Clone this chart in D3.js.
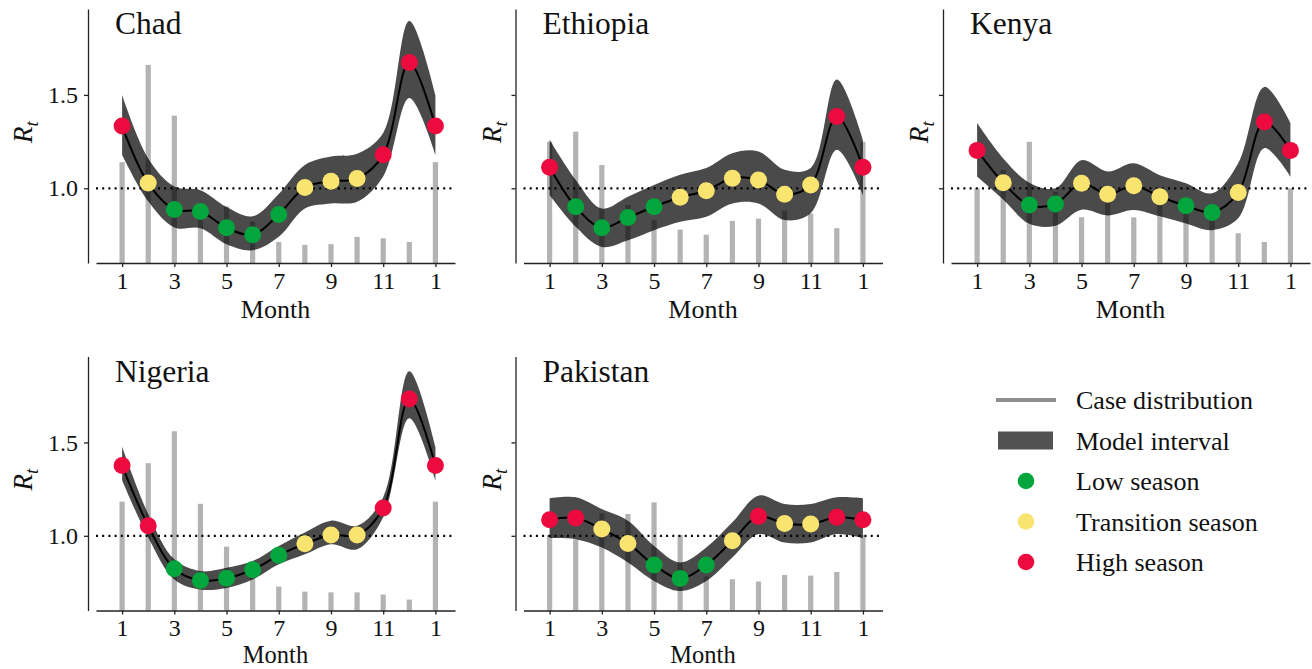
<!DOCTYPE html>
<html>
<head>
<meta charset="utf-8">
<script src="https://cdn.jsdelivr.net/npm/d3@7"></script>
<style>
  body { margin: 0; background: #ffffff; }
  svg { display: block; font-family: "Liberation Serif", "Times New Roman", serif; }
</style>
</head>
<body>
<svg id="chart" width="1312" height="669"></svg>
<script>
// Months 1..12, plus month 13 which repeats January to close the yearly cycle
const tickMonths = [1, 3, 5, 7, 9, 11, 13];
const tickLabels = ["1", "3", "5", "7", "9", "11", "1"];
const rTicks = [1.0, 1.5];
const countries = ["Chad", "Ethiopia", "Kenya", "Nigeria", "Pakistan"];

// Season of each month: L = low, T = transition, H = high
const chadSeason     = ["H","T","L","L","L","L","L","T","T","T","H","H"];
const ethiopiaSeason = ["H","L","L","L","L","T","T","T","T","T","T","H"];
const kenyaSeason    = ["H","T","L","L","T","T","T","T","L","L","T","H"];
const nigeriaSeason  = ["H","H","L","L","L","L","L","T","T","T","H","H"];
const pakistanSeason = ["H","H","T","T","L","L","L","T","H","T","T","H"];

// Monthly reproduction number R_t (model mean)
const chadRt     = [1.333, 1.028, 0.887, 0.876, 0.789, 0.751, 0.860, 1.004, 1.038, 1.052, 1.179, 1.674];
const ethiopiaRt = [1.113, 0.901, 0.789, 0.844, 0.901, 0.952, 0.987, 1.054, 1.045, 0.968, 1.018, 1.385];
const kenyaRt    = [1.203, 1.030, 0.910, 0.916, 1.027, 0.968, 1.014, 0.955, 0.907, 0.871, 0.977, 1.355];
const nigeriaRt  = [1.376, 1.054, 0.824, 0.761, 0.773, 0.818, 0.896, 0.957, 1.004, 1.004, 1.149, 1.732];
const pakistanRt = [1.086, 1.095, 1.036, 0.959, 0.844, 0.772, 0.844, 0.973, 1.104, 1.066, 1.063, 1.099];

// Model interval, lower and upper bounds
const chadLower     = [1.180, 0.930, 0.790, 0.786, 0.700, 0.668, 0.740, 0.892, 0.919, 0.928, 1.063, 1.484];
const chadUpper     = [1.500, 1.160, 1.010, 0.990, 0.900, 0.850, 0.970, 1.125, 1.170, 1.185, 1.296, 1.896];
const ethiopiaLower = [0.964, 0.794, 0.686, 0.722, 0.776, 0.821, 0.848, 0.919, 0.919, 0.830, 0.866, 1.206];
const ethiopiaUpper = [1.260, 1.045, 0.892, 0.955, 1.018, 1.072, 1.108, 1.188, 1.197, 1.099, 1.108, 1.582];
const kenyaLower    = [1.063, 0.940, 0.810, 0.800, 0.885, 0.855, 0.884, 0.850, 0.812, 0.776, 0.839, 1.215];
const kenyaUpper    = [1.349, 1.160, 1.030, 1.000, 1.150, 1.090, 1.134, 1.070, 1.027, 0.973, 1.134, 1.543];
const nigeriaLower  = [1.297, 0.991, 0.766, 0.712, 0.721, 0.766, 0.847, 0.901, 0.955, 0.928, 1.099, 1.629];
const nigeriaUpper  = [1.477, 1.117, 0.874, 0.811, 0.829, 0.865, 0.946, 1.018, 1.081, 1.054, 1.207, 1.881];
const pakistanLower = [0.987, 0.982, 0.937, 0.857, 0.758, 0.704, 0.758, 0.884, 1.009, 0.964, 0.964, 1.009];
const pakistanUpper = [1.201, 1.206, 1.143, 1.081, 0.946, 0.857, 0.937, 1.072, 1.215, 1.170, 1.170, 1.206];

// Share of annual cases in each month (%)
const chadCases     = [13.9, 27.3, 20.3, 6.4, 7.8, 5.7, 2.9, 2.5, 2.6, 3.6, 3.4, 2.9];
const ethiopiaCases = [16.7, 18.1, 13.5, 8.0, 5.9, 4.6, 3.9, 5.8, 6.1, 7.2, 6.8, 4.8];
const kenyaCases    = [10.3, 12.8, 16.7, 9.8, 6.3, 8.6, 6.3, 8.0, 6.9, 6.4, 4.1, 2.9];
const nigeriaCases  = [15.0, 20.3, 24.7, 14.7, 8.8, 5.2, 3.3, 2.6, 2.5, 2.5, 2.2, 1.5];
const pakistanCases = [10.4, 9.8, 13.4, 13.3, 14.9, 10.4, 4.7, 4.3, 4.0, 4.9, 4.8, 5.3];

const seasonColor = { L: "#03a63c", T: "#fae470", H: "#ec0a3f" };

const panels = [
  { name: countries[0], rt: chadRt,     lo: chadLower,     hi: chadUpper,     cases: chadCases,     season: chadSeason },
  { name: countries[1], rt: ethiopiaRt, lo: ethiopiaLower, hi: ethiopiaUpper, cases: ethiopiaCases, season: ethiopiaSeason },
  { name: countries[2], rt: kenyaRt,    lo: kenyaLower,    hi: kenyaUpper,    cases: kenyaCases,    season: kenyaSeason },
  { name: countries[3], rt: nigeriaRt,  lo: nigeriaLower,  hi: nigeriaUpper,  cases: nigeriaCases,  season: nigeriaSeason },
  { name: countries[4], rt: pakistanRt, lo: pakistanLower, hi: pakistanUpper, cases: pakistanCases, season: pakistanSeason }
];

// Close the cycle: month 13 takes January's value
const wrap = arr => arr.concat([arr[0]]);

const svg = d3.select("#chart");
const W = 367, H = 254;
const colX = [88, 515.5, 943];
const rowY = [9, 356.5];

const x = d3.scaleLinear().domain([0, 13.75]).range([8, W]);
const y = d3.scaleLinear().domain([0.6, 1.96]).range([H, 0]);
const yCase = d3.scaleLinear().domain([0, 35]).range([H, 0]);

const defs = svg.append("defs");
defs.append("filter").attr("id", "soft")
  .attr("x", "-5%").attr("y", "-5%").attr("width", "110%").attr("height", "110%")
  .append("feGaussianBlur").attr("stdDeviation", 0.6);

const smooth = d3.curveCatmullRom.alpha(0.5);
const ink = "#111";

panels.forEach((p, idx) => {
  const col = idx % 3, row = Math.floor(idx / 3);
  const g = svg.append("g").attr("transform", `translate(${colX[col]},${rowY[row]})`);

  const rt = wrap(p.rt), lo = wrap(p.lo), hi = wrap(p.hi), cases = wrap(p.cases);
  const season = wrap(p.season);
  const pts = rt.map((v, i) => ({ m: i + 1, rt: v, lo: lo[i], hi: hi[i], c: cases[i], s: season[i] }));

  // case distribution bars
  g.append("g").selectAll("rect").data(pts).join("rect")
    .attr("x", d => x(d.m) - 2.6)
    .attr("width", 5.2)
    .attr("y", d => yCase(d.c))
    .attr("height", d => H - yCase(d.c))
    .attr("fill", "#b3b3b3");

  // model interval band
  g.append("path").datum(pts)
    .attr("d", d3.area().x(d => x(d.m)).y0(d => y(d.lo)).y1(d => y(d.hi)).curve(smooth))
    .attr("fill", "#000").attr("fill-opacity", 0.71)
    .attr("filter", "url(#soft)");

  // reference line R_t = 1
  g.append("line")
    .attr("x1", x(0)).attr("x2", x(13.72))
    .attr("y1", y(1)).attr("y2", y(1))
    .attr("stroke", "#000").attr("stroke-width", 2.2)
    .attr("stroke-dasharray", "2,4.2");

  // mean curve
  g.append("path").datum(pts)
    .attr("d", d3.line().x(d => x(d.m)).y(d => y(d.rt)).curve(smooth))
    .attr("fill", "none").attr("stroke", "#000").attr("stroke-width", 2);

  // monthly points coloured by season
  g.append("g").selectAll("circle").data(pts).join("circle")
    .attr("cx", d => x(d.m)).attr("cy", d => y(d.rt)).attr("r", 8.5)
    .attr("fill", d => seasonColor[d.s]);

  // axes
  const xAxis = d3.axisBottom(x).tickValues(tickMonths)
    .tickFormat((d, i) => tickLabels[i]).tickSize(4).tickSizeOuter(0).tickPadding(6);
  const gx = g.append("g").attr("transform", `translate(0,${H})`).call(xAxis);

  const yAxis = d3.axisLeft(y).tickValues(rTicks).tickSize(4).tickSizeOuter(0).tickPadding(6)
    .tickFormat(col === 0 ? d3.format(".1f") : () => "");
  const gy = g.append("g").call(yAxis);

  [gx, gy].forEach(a => {
    a.select(".domain").attr("stroke", "#222").attr("stroke-width", 1.3);
    a.selectAll(".tick line").attr("stroke", "#222").attr("stroke-width", 1.3);
    a.selectAll(".tick text").attr("fill", ink)
      .style("font-family", "Liberation Serif, serif").style("font-size", "24px");
  });
  gx.selectAll(".tick text").attr("dy", "0.71em").attr("y", row === 0 ? 9 : 8);

  // x label (bottom row sits close to the lower edge of the figure)
  g.append("text")
    .attr("x", (x(0) + x(13.75)) / 2).attr("y", H + (row === 0 ? 55 : 52.5))
    .attr("text-anchor", "middle").attr("fill", ink)
    .style("font-size", row === 0 ? "26px" : "24.5px").text("Month");

  // y label R_t
  const ly = g.append("text")
    .attr("transform", `translate(${col === 0 ? -56 : -15},${H / 2 - 4}) rotate(-90)`)
    .attr("text-anchor", "middle").attr("fill", ink)
    .style("font-size", "27px").style("font-style", "italic");
  ly.append("tspan").text("R");
  ly.append("tspan").attr("dy", 6).style("font-size", "19px").text("t");

  // country title
  g.append("text")
    .attr("x", 27).attr("y", 25)
    .attr("fill", ink).style("font-size", "31.5px")
    .text(p.name);
});

// legend
const legendItems = ["Case distribution", "Model interval", "Low season", "Transition season", "High season"];
const legend = svg.append("g").attr("transform", "translate(1026,400)");
const rowGap = 40.5;
legendItems.forEach((label, i) => {
  const gy = i * rowGap;
  if (i === 0) {
    legend.append("line").attr("x1", -30).attr("x2", 30).attr("y1", gy).attr("y2", gy)
      .attr("stroke", "#8f8f8f").attr("stroke-width", 4);
  } else if (i === 1) {
    legend.append("rect").attr("x", -28).attr("y", gy - 9).attr("width", 55).attr("height", 18)
      .attr("fill", "#000").attr("fill-opacity", 0.68);
  } else {
    const key = ["L", "T", "H"][i - 2];
    legend.append("circle").attr("cx", 0).attr("cy", gy).attr("r", 8.3).attr("fill", seasonColor[key]);
  }
  legend.append("text").attr("x", 50).attr("y", gy).attr("dy", "0.35em")
    .attr("fill", ink).style("font-size", "26px").text(label);
});
</script>
</body>
</html>
